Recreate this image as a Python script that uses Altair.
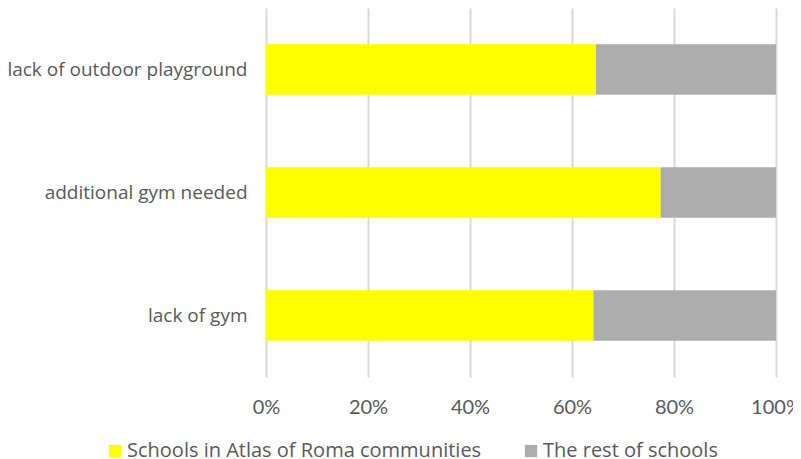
import altair as alt
import pandas as pd

categories = ["lack of outdoor playground", "additional gym needed", "lack of gym"]
roma_schools = [64.7, 77.4, 64.2]
rest_schools = [35.3, 22.6, 35.8]
series_names = ["Schools in Atlas of Roma communities", "The rest of schools"]
series_colors = ["#FFFF00", "#ADADAD"]

rows = []
for c, a, b in zip(categories, roma_schools, rest_schools):
    rows.append({"category": c, "series": series_names[0], "value": a, "ord": 0})
    rows.append({"category": c, "series": series_names[1], "value": b, "ord": 1})
df = pd.DataFrame(rows)

FONT = "Open Sans"
TXT = "#595959"

chart = alt.Chart(df).mark_bar().encode(
    y=alt.Y("category:N", sort=categories, title=None,
            scale=alt.Scale(paddingInner=0.59, paddingOuter=0.295),
            axis=alt.Axis(labelFontSize=19, labelColor=TXT, labelFont=FONT,
                          ticks=False, domain=False, labelPadding=19, grid=False,
                          labelLimit=300)),
    x=alt.X("value:Q", stack="normalize", title=None,
            scale=alt.Scale(domain=[0, 1]),
            axis=alt.Axis(format="%", values=[0, 0.2, 0.4, 0.6, 0.8, 1.0],
                          labelFontSize=20, labelColor=TXT, labelFont="Lato",
                          ticks=False, domain=False, labelPadding=20,
                          grid=True, gridColor="#D9D9D9", gridWidth=2,
                          labelFlush=False)),
    color=alt.Color("series:N", sort=series_names,
                    scale=alt.Scale(domain=series_names, range=series_colors),
                    legend=alt.Legend(title=None, orient="none", direction="horizontal",
                                      legendX=-161, legendY=433,
                                      symbolType="square", symbolSize=150,
                                      symbolStrokeWidth=0, symbolOpacity=1,
                                      labelOffset=2,
                                      labelFontSize=20, labelColor=TXT, labelFont=FONT,
                                      columnPadding=39, labelLimit=500)),
    order=alt.Order("ord:Q"),
).properties(
    width=510,
    height=369,
    autosize=alt.AutoSizeParams(type="none"),
    padding={"left": 258, "top": 0, "right": 17, "bottom": 82},
).configure_view(stroke=None)

chart.save("out.html", embed_options={"renderer": "svg", "actions": False})
